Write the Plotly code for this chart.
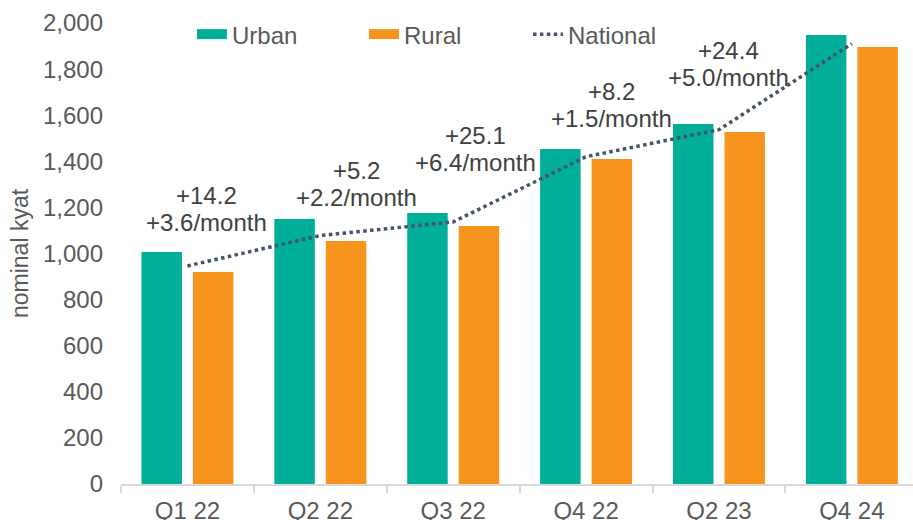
import plotly.graph_objects as go

categories = ["Q1 22", "Q2 22", "Q3 22", "Q4 22", "Q2 23", "Q4 24"]
urban = [1006, 1150, 1176, 1453, 1562, 1948]
rural = [920, 1054, 1119, 1410, 1527, 1896]
national = [946, 1078, 1137, 1420, 1537, 1910]

change_total = ["+14.2", "+5.2", "+25.1", "+8.2", "+24.4"]
change_month = ["+3.6/month", "+2.2/month", "+6.4/month", "+1.5/month", "+5.0/month"]
label_x = [0.14, 1.27, 2.17, 3.19, 4.07]
label_y = [1191, 1302, 1453, 1646, 1820]

y_ticks = [0, 200, 400, 600, 800, 1000, 1200, 1400, 1600, 1800, 2000]

TEAL = "#00AE9A"
ORANGE = "#F7941D"
NAVY = "#44546A"
TICK_GREY = "#595959"
TEXT_DARK = "#404040"
FONT = "Liberation Sans, Arial, sans-serif"
FS = 24

fig = go.Figure()
fig.add_trace(go.Bar(x=categories, y=urban, name="Urban", marker=dict(color=TEAL, line=dict(width=0)),
                     showlegend=False, legendgroup="urban"))
fig.add_trace(go.Bar(x=categories, y=rural, name="Rural", marker=dict(color=ORANGE, line=dict(width=0)),
                     showlegend=False, legendgroup="rural"))
fig.add_trace(go.Scatter(x=categories, y=national, name="National", mode="lines",
                         line=dict(color=NAVY, width=3.5, dash="3.5px,3.4px"),
                         legend="legend3"))
# legend proxies (wide swatches)
fig.add_trace(go.Scatter(x=[None], y=[None], mode="lines", name="Urban", legendgroup="urban",
                         line=dict(color=TEAL, width=13), legend="legend"))
fig.add_trace(go.Scatter(x=[None], y=[None], mode="lines", name="Rural", legendgroup="rural",
                         line=dict(color=ORANGE, width=13), legend="legend2"))

annotations = []
for lx, ly, t1, t2 in zip(label_x, label_y, change_total, change_month):
    annotations.append(dict(x=lx, y=ly, xref="x", yref="y", text=t1, showarrow=False,
                            yshift=13.5, font=dict(size=FS, color=TEXT_DARK, family=FONT)))
    annotations.append(dict(x=lx, y=ly, xref="x", yref="y", text=t2, showarrow=False,
                            yshift=-13.5, font=dict(size=FS, color=TEXT_DARK, family=FONT)))

leg_common = dict(orientation="h", yanchor="middle", y=0.975, xanchor="left",
                  bgcolor="rgba(0,0,0,0)", font=dict(size=FS, color=TICK_GREY, family=FONT),
                  borderwidth=0, tracegroupgap=0)

fig.update_layout(
    width=913, height=520,
    margin=dict(l=121, r=0, t=23, b=36, autoexpand=False),
    paper_bgcolor="white", plot_bgcolor="white",
    barmode="group", bargap=0.225, bargroupgap=0.214,
    font=dict(family=FONT, size=FS, color=TICK_GREY),
    legend=dict(x=0.0896, **leg_common),
    legend2=dict(x=0.3068, **leg_common),
    legend3=dict(x=0.5139, **leg_common),
    annotations=annotations,
    xaxis=dict(
        type="category", range=[-0.5, 5.46], automargin=False,
        showline=True, linecolor="#D9D9D9", linewidth=1.5,
        ticks="outside", tickson="boundaries", ticklen=7, tickcolor="#D9D9D9", tickwidth=1.5,
        showgrid=False, tickfont=dict(size=FS, color=TICK_GREY, family=FONT),
        ticklabelstandoff=4,
    ),
    yaxis=dict(
        range=[0, 2000], tickvals=y_ticks, tickformat=",", automargin=False,
        showgrid=False, zeroline=False, showline=False, ticks="",
        tickfont=dict(size=FS, color=TICK_GREY, family=FONT),
        ticklabelstandoff=17,
        title=dict(text="nominal kyat", font=dict(size=23, color=TICK_GREY, family=FONT), standoff=7),
    ),
)

fig.write_html("out.html", config={"displayModeBar": False},
               post_script="document.body.style.margin='0';document.body.style.overflow='hidden';")
